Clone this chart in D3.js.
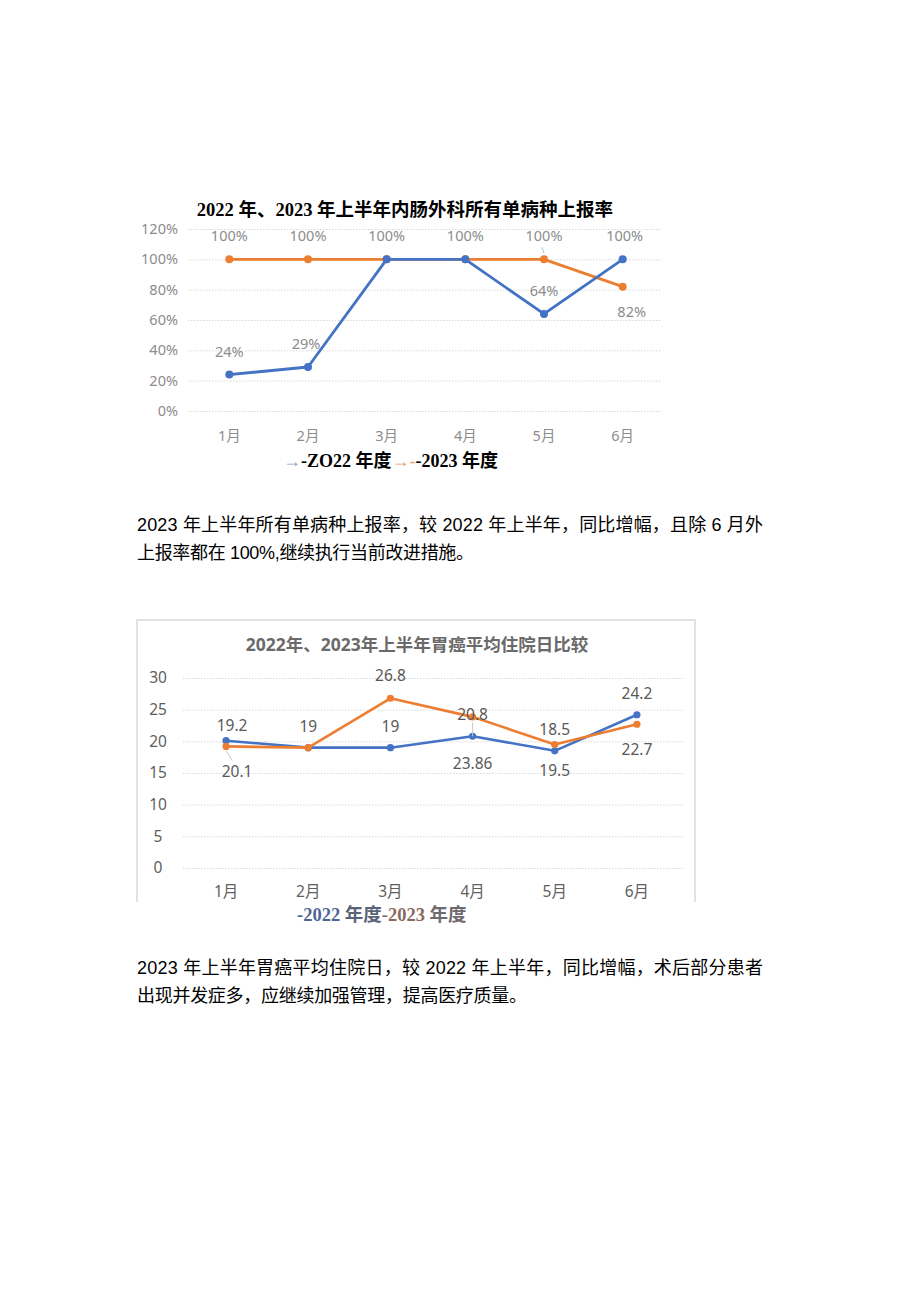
<!DOCTYPE html>
<html><head><meta charset="utf-8">
<script src="https://cdn.jsdelivr.net/npm/d3@7"></script>
<style>html,body{margin:0;padding:0;background:#fff;}svg{display:block;}</style>
</head><body>
<svg id="c" width="920" height="1301"></svg>
<script>
// ---------- data ----------
const months = ["1月","2月","3月","4月","5月","6月"];
// chart 1: 上报率 (%)
const rate2022 = [24, 29, 100, 100, 64, 100];
const rate2023 = [100, 100, 100, 100, 100, 82];
const rate2022Labels = ["24%", "29%", "", "", "64%", "100%"];
const rate2023Labels = ["100%", "100%", "100%", "100%", "100%", "82%"];
const rateTicks = [0, 20, 40, 60, 80, 100, 120];
// chart 2: 平均住院日
const stay2022 = [20.1, 19, 19, 20.8, 18.5, 24.2];
const stay2023 = [19.2, 19, 26.8, 23.86, 19.5, 22.7];
const stay2022Labels = ["19.2", "19", "19", "20.8", "18.5", "24.2"];
const stay2023Labels = ["20.1", "", "26.8", "23.86", "19.5", "22.7"];
const stayTicks = [0, 5, 10, 15, 20, 25, 30];

const title1 = "2022 年、2023 年上半年内肠外科所有单病种上报率";
const title2 = "2022年、2023年上半年胃癌平均住院日比较";
const para1 = ["2023 年上半年所有单病种上报率，较 2022 年上半年，同比增幅，且除 6 月外", "上报率都在 100%,继续执行当前改进措施。"];
const para2 = ["2023 年上半年胃癌平均住院日，较 2022 年上半年，同比增幅，术后部分患者", "出现并发症多，应继续加强管理，提高医疗质量。"];

const BLUE = "#4472c4", ORANGE = "#ed7d31";
const SANS = "'Noto Sans','Noto Sans CJK SC',sans-serif";
const SERIF = "'Liberation Serif','Noto Sans CJK SC',serif";
const svg = d3.select("#c");

// ---------- chart 1 ----------
{
  const x = d3.scaleBand().domain(months).range([190, 662]);
  const y = d3.scaleLinear().domain([0, 120]).range([411, 229]);
  const cx = m => x(m) + x.bandwidth() / 2;
  const g = svg.append("g");
  g.append("text").attr("x", 405).attr("y", 216).attr("text-anchor", "middle")
    .attr("font-family", SERIF).attr("font-weight", "bold").attr("font-size", 18.5)
    .attr("fill", "#000").text(title1);
  const yAxis = g.append("g").attr("transform", "translate(188,0)")
    .call(d3.axisLeft(y).tickValues(rateTicks).tickSize(-474).tickFormat(d => d + "%"));
  yAxis.select(".domain").remove();
  yAxis.selectAll("line").attr("stroke", "#d9d9d9").attr("stroke-dasharray", "1.5,1.5");
  yAxis.selectAll("text").attr("x", -10).attr("fill", "#8c8c8c").attr("font-size", 14.5).attr("font-family", SANS);
  const xAxis = g.append("g").attr("transform", "translate(0,411)")
    .call(d3.axisBottom(x).tickSize(0).tickPadding(20));
  xAxis.select(".domain").remove();
  xAxis.selectAll("text").attr("fill", "#8c8c8c").attr("font-size", 14.5).attr("font-family", SANS);

  const line = d3.line().x((d, i) => cx(months[i])).y(d => y(d));
  [[rate2023, ORANGE], [rate2022, BLUE]].forEach(([data, col]) => {
    g.append("path").datum(data).attr("d", line).attr("fill", "none")
      .attr("stroke", col).attr("stroke-width", 2.8).attr("stroke-linejoin", "round");
    g.selectAll(null).data(data).enter().append("circle")
      .attr("cx", (d, i) => cx(months[i])).attr("cy", d => y(d)).attr("r", 4).attr("fill", col);
  });
  rate2023Labels.forEach((t, i) => {
    if (!t) return;
    const below = i === 5;
    g.append("text").attr("x", cx(months[i]) + (below ? 9 : 0)).attr("y", y(rate2023[i]) + (below ? 30 : -18))
      .attr("text-anchor", "middle").attr("font-family", SANS).attr("font-size", 14.5).attr("fill", "#8c8c8c").text(t);
  });
  rate2022Labels.forEach((t, i) => {
    if (!t) return;
    g.append("text").attr("x", cx(months[i]) + (i === 1 ? -2 : (i === 5 ? 2 : 0))).attr("y", y(rate2022[i]) - 18)
      .attr("text-anchor", "middle").attr("font-family", SANS).attr("font-size", 14.5).attr("fill", "#8c8c8c").text(t);
  });
  g.append("line").attr("x1", cx(months[4])).attr("x2", cx(months[4]) - 2).attr("y1", y(100) - 6).attr("y2", y(100) - 12).attr("stroke", "#bbb");
  // legend
  const lg = g.append("text").attr("x", 283).attr("y", 467).attr("font-family", SERIF)
    .attr("font-weight", "bold").attr("font-size", 18);
  lg.append("tspan").attr("fill", "#8ea0c8").attr("font-weight", "normal").text("→");
  lg.append("tspan").attr("fill", "#000").text("-ZO22 年度");
  lg.append("tspan").attr("fill", "#e8a07a").attr("font-weight", "normal").text("→-");
  lg.append("tspan").attr("fill", "#000").text("-2023 年度");
}

// ---------- paragraphs ----------
function para(lines, ys, widths) {
  lines.forEach((t, i) => {
    svg.append("text").attr("x", 137).attr("y", ys[i])
      .attr("font-family", "'Liberation Sans','Noto Sans CJK SC',sans-serif").attr("font-size", 18)
      .attr("fill", "#000").attr("textLength", widths[i]).attr("lengthAdjust", "spacing").text(t);
  });
}
para(para1, [531, 559], [626, 337]);
para(para2, [974, 1002], [626, 390]);

// ---------- chart 2 ----------
{
  const g = svg.append("g");
  g.append("path").attr("d", "M137,902 V620 H695 V902").attr("fill", "none").attr("stroke", "#d9d9d9").attr("stroke-width", 1.5);
  g.append("text").attr("x", 417).attr("y", 651).attr("text-anchor", "middle")
    .attr("font-family", SANS).attr("font-weight", "bold").attr("font-size", 17.5)
    .attr("fill", "#6a6a6a").text(title2);
  const x = d3.scaleBand().domain(months).range([185, 678]);
  const y = d3.scaleLinear().domain([0, 30]).range([868, 678]);
  const cx = m => x(m) + x.bandwidth() / 2;
  const yAxis = g.append("g").attr("transform", "translate(183,0)")
    .call(d3.axisLeft(y).tickValues(stayTicks).tickSize(-500));
  yAxis.select(".domain").remove();
  yAxis.selectAll("line").attr("stroke", "#d9d9d9").attr("stroke-dasharray", "1.5,1.5");
  yAxis.selectAll("text").attr("x", -25).attr("text-anchor", "middle").attr("fill", "#606060").attr("font-size", 15.5).attr("font-family", SANS);
  const xAxis = g.append("g").attr("transform", "translate(0,868)")
    .call(d3.axisBottom(x).tickSize(0).tickPadding(18));
  xAxis.select(".domain").remove();
  xAxis.selectAll("text").attr("fill", "#606060").attr("font-size", 15.5).attr("font-family", SANS);

  const line = d3.line().x((d, i) => cx(months[i])).y(d => y(d));
  [[stay2022, BLUE], [stay2023, ORANGE]].forEach(([data, col]) => {
    g.append("path").datum(data).attr("d", line).attr("fill", "none")
      .attr("stroke", col).attr("stroke-width", 2.6).attr("stroke-linejoin", "round");
    g.selectAll(null).data(data).enter().append("circle")
      .attr("cx", (d, i) => cx(months[i])).attr("cy", d => y(d)).attr("r", 3.6).attr("fill", col);
  });
  const txt = (xx, yy, t) => g.append("text").attr("x", xx).attr("y", yy).attr("text-anchor", "middle")
    .attr("font-family", SANS).attr("font-size", 15.5).attr("fill", "#595959").text(t);
  stay2022Labels.forEach((t, i) => {
    const off = i === 0 ? -10 : -16;
    txt(cx(months[i]) + (i === 0 ? 6 : 0), y(stay2022[i]) + off, t);
  });
  const place = ["below", "", "above", "far", "below", "below"];
  stay2023Labels.forEach((t, i) => {
    if (!t) return;
    const p = place[i];
    const yy = y(stay2023[i]) + (p === "above" ? -17 : p === "far" ? 52 : 31);
    txt(cx(months[i]) + (i === 0 ? 11 : 0), yy, t);
  });
  g.append("line").attr("x1", cx(months[3])).attr("x2", cx(months[3])).attr("y1", y(stay2022[3]) - 14).attr("y2", y(stay2022[3])).attr("stroke", "#c8c8c8");
  g.append("line").attr("x1", cx(months[0])).attr("x2", cx(months[0]) + 6).attr("y1", y(stay2023[0]) + 4).attr("y2", y(stay2023[0]) + 14).attr("stroke", "#c8c8c8");
  // legend
  const lg = g.append("text").attr("x", 297).attr("y", 921).attr("font-family", SERIF)
    .attr("font-weight", "bold").attr("font-size", 18.5);
  lg.append("tspan").attr("fill", "#4e6494").text("-2022 ");
  lg.append("tspan").attr("fill", "#5a6378").text("年度");
  lg.append("tspan").attr("fill", "#8a6a5c").text("-2023 ");
  lg.append("tspan").attr("fill", "#6e6a70").text("年度");
}
</script>
</body></html>
